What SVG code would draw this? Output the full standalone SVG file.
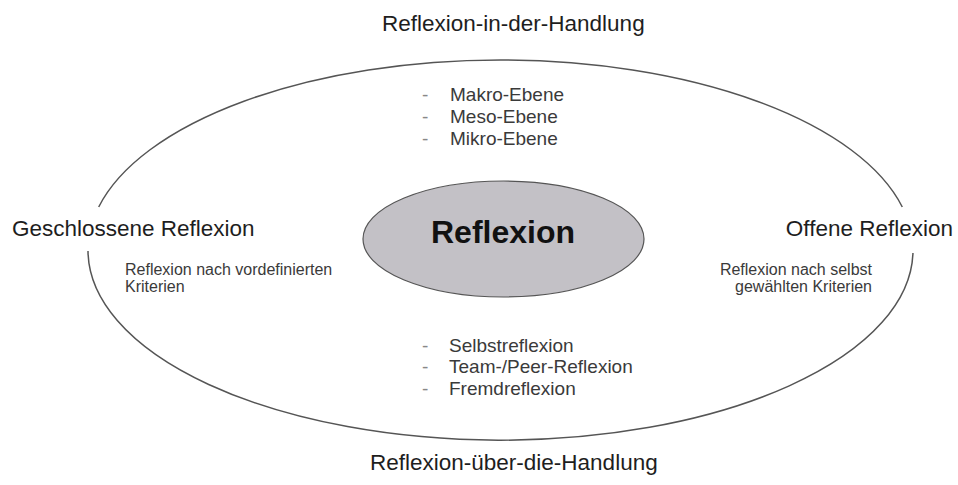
<svg xmlns="http://www.w3.org/2000/svg" width="958" height="485" viewBox="0 0 958 485">
<style>
.title{font-family:"Liberation Sans",Arial,sans-serif;font-size:22.5px;fill:#1e1e1e}
.small{font-family:"Liberation Sans",Arial,sans-serif;font-size:16px;fill:#3a3a3a}
.list{font-family:"Liberation Sans",Arial,sans-serif;font-size:19px;fill:#3a3a3a}
.dash{font-family:"Liberation Sans",Arial,sans-serif;font-size:19px;fill:#888}
.arc{fill:none;stroke:#555;stroke-width:1.5}
</style>
<rect width="958" height="485" fill="#fff"/>
<g id="outer-ellipse">
<path class="arc" d="M 88.0 251 A 412.5 190 0 0 0 912.95 253"/>
<path class="arc" d="M 902.3 207 A 412.5 190 0 0 0 98.7 207"/>
</g>
<g id="connectors"></g>
<g id="reflexion">
<ellipse cx="503.5" cy="239" rx="140.5" ry="58" fill="#c3c1c6" stroke="#555" stroke-width="1.2"/>
<text x="503" y="243" text-anchor="middle" style="font-family:'Liberation Sans',Arial,sans-serif;font-size:32px;font-weight:bold;fill:#111">Reflexion</text>
</g>
<g id="reflexion-in-der-handlung">
<text class="title" x="382" y="31">Reflexion-in-der-Handlung</text>
<text class="dash" x="422" y="101">-</text>
<text class="list" x="450" y="101">Makro-Ebene</text>
<text class="dash" x="422" y="123">-</text>
<text class="list" x="450" y="123">Meso-Ebene</text>
<text class="dash" x="422" y="145">-</text>
<text class="list" x="450" y="145">Mikro-Ebene</text>
</g>
<g id="geschlossene-reflexion">
<text class="title" x="12" y="236">Geschlossene Reflexion</text>
<text class="small" x="125" y="275">Reflexion nach vordefinierten</text>
<text class="small" x="125" y="292">Kriterien</text>
</g>
<g id="offene-reflexion">
<text class="title" x="953" y="236" text-anchor="end">Offene Reflexion</text>
<text class="small" x="872" y="275" text-anchor="end">Reflexion nach selbst</text>
<text class="small" x="872" y="292" text-anchor="end">gewählten Kriterien</text>
</g>
<g id="reflexion-ueber-die-handlung">
<text class="dash" x="422" y="352">-</text>
<text class="list" x="449" y="352">Selbstreflexion</text>
<text class="dash" x="422" y="373">-</text>
<text class="list" x="449" y="373">Team-/Peer-Reflexion</text>
<text class="dash" x="422" y="395">-</text>
<text class="list" x="449" y="395">Fremdreflexion</text>
<text class="title" x="370" y="470">Reflexion-über-die-Handlung</text>
</g>
</svg>
